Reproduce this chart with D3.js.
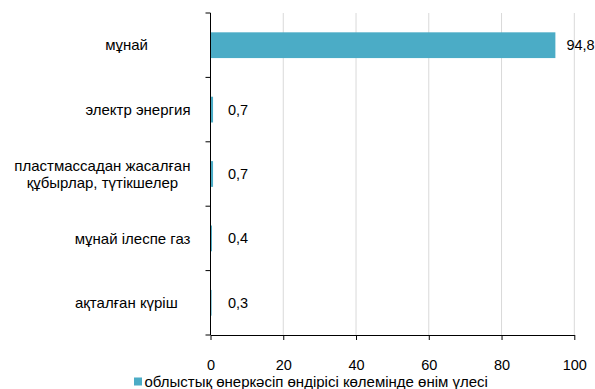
<!DOCTYPE html>
<html><head><meta charset="utf-8">
<script src="https://cdn.jsdelivr.net/npm/d3@7"></script>
<style>
body{margin:0;background:#fff;}
text{font-family:"Liberation Sans",Arial,sans-serif;fill:#000;}
</style></head>
<body><svg id="c" width="595" height="389"></svg>
<script>
const categories = [["мұнай"], ["электр энергия"], ["пластмассадан жасалған","құбырлар, түтікшелер"], ["мұнай ілеспе газ"], ["ақталған күріш"]];
const values = [94.8, 0.7, 0.7, 0.4, 0.3];
const valueLabels = ["94,8", "0,7", "0,7", "0,4", "0,3"];
const xTicks = [0, 20, 40, 60, 80, 100];
const seriesName = "облыстық өнеркәсіп өндірісі көлемінде өнім үлесі";

(function(){
const svg = d3.select("#c");
const pl = 210.5, pr = 574.3, pt = 13, pb = 335;
const x = d3.scaleLinear().domain([0, 100]).range([pl, pr]);
const y = d3.scaleBand().domain(d3.range(categories.length)).range([pt, pb]).paddingInner(0.6).paddingOuter(0.3);
const yb = d3.scaleBand().domain(d3.range(categories.length)).range([pt, pb]);
const color = "#4BACC6";

// gridlines
svg.append("g").selectAll("line").data(xTicks.slice(1)).join("line")
  .attr("x1", d => x(d)).attr("x2", d => x(d)).attr("y1", pt).attr("y2", pb)
  .attr("stroke", "#d9d9d9").attr("stroke-width", 1);

// bars
svg.append("g").selectAll("rect").data(values).join("rect")
  .attr("x", x(0)).attr("y", (d, i) => y(i)).attr("width", d => x(d) - x(0)).attr("height", y.bandwidth())
  .attr("fill", color);

// value labels
svg.append("g").selectAll("text").data(values).join("text")
  .attr("x", d => Math.max(x(d) + 11, pl + 17.5)).attr("y", (d, i) => yb(i) + yb.bandwidth() / 2).attr("dy", "0.35em")
  .attr("font-size", 14.5).text((d, i) => valueLabels[i]);

// x axis
const xAxis = d3.axisBottom(x).tickValues(xTicks).tickSize(5).tickSizeOuter(0).tickFormat(d3.format("d"));
const gx = svg.append("g").attr("transform", `translate(0,${pb})`).call(xAxis);
gx.select(".domain").attr("stroke", "#000");
gx.selectAll(".tick line").attr("stroke", "#000");
gx.selectAll(".tick text").attr("font-size", 14.5).attr("font-family", '"Liberation Sans",Arial,sans-serif').attr("fill", "#000").attr("y", 35).attr("dy", "0");

// y axis line + ticks at band boundaries
svg.append("line").attr("x1", pl).attr("x2", pl).attr("y1", pt).attr("y2", pb).attr("stroke", "#000");
const bounds = d3.range(categories.length + 1).map(i => i < categories.length ? yb(i) : pb);
svg.append("g").selectAll("line").data(bounds).join("line")
  .attr("x1", pl - 5).attr("x2", pl).attr("y1", d => d).attr("y2", d => d).attr("stroke", "#000");

// category labels (layout: right edge of each label block)
const labelRight = [148, 190.5, 190.5, 190.5, 177.7];
const lh = 17.5;
const lg = svg.append("g");
categories.forEach((lines, i) => {
  const cy = yb(i) + yb.bandwidth() / 2;
  const t = lg.append("text").attr("font-size", 15);
  const n = lines.length;
  lines.forEach((ln, j) => {
    t.append("tspan").attr("y", cy + (j - (n - 1) / 2) * lh).attr("dy", "0.35em").text(ln);
  });
  const widths = [];
  t.selectAll("tspan").each(function(){ widths.push(this.getComputedTextLength()); });
  const bw = d3.max(widths);
  const cx = labelRight[i] - bw / 2;
  t.attr("text-anchor", "middle").selectAll("tspan").attr("x", cx);
});

// legend
const lgd = svg.append("g");
lgd.append("rect").attr("x", 134).attr("y", 377.5).attr("width", 8).attr("height", 8).attr("fill", color);
lgd.append("text").attr("x", 144.5).attr("y", 386.5).attr("font-size", 15).text(seriesName);
})();
</script></body></html>
